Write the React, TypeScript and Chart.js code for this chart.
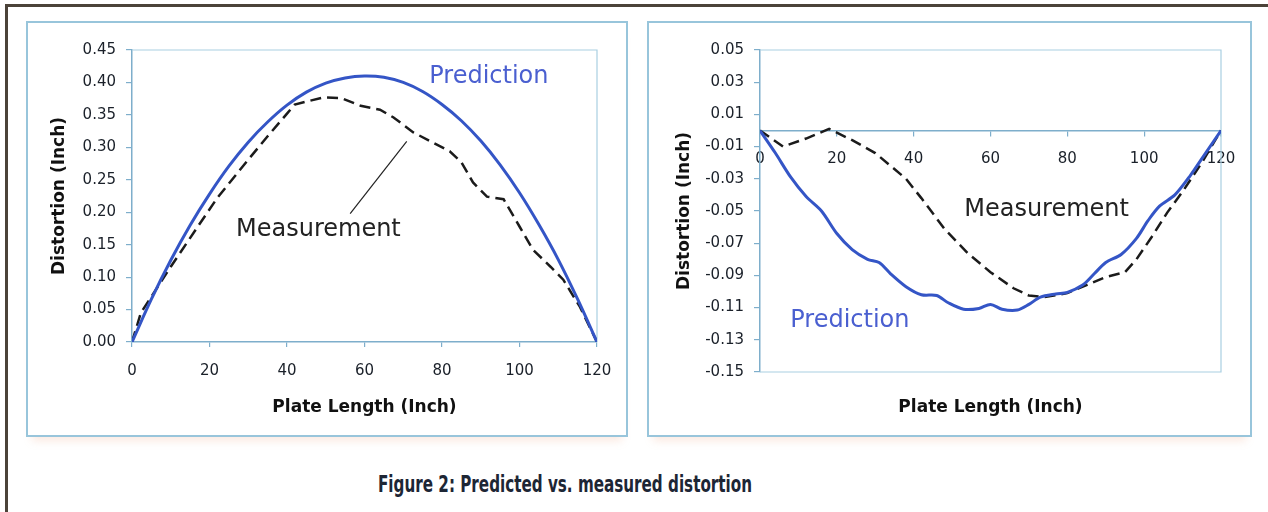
import React, { useEffect, useRef } from "react";
import { Chart, registerables } from "chart.js";
Chart.register(...registerables);

// ---------- data ----------
const xTicks = [0, 20, 40, 60, 80, 100, 120];
const leftYTicks = [0, 0.05, 0.1, 0.15, 0.2, 0.25, 0.3, 0.35, 0.4, 0.45];
const rightYTicks = [-0.15, -0.13, -0.11, -0.09, -0.07, -0.05, -0.03, -0.01, 0.01, 0.03, 0.05];

const leftPredX = [0, 5, 10, 15, 20, 25, 30, 35, 40, 45, 50, 55, 60, 65, 70, 75, 80, 85, 90, 95, 100, 105, 110, 115, 120];
const leftPredY = [0, 0.066, 0.126, 0.18, 0.228, 0.271, 0.308, 0.339, 0.365, 0.385, 0.399, 0.407, 0.41, 0.408, 0.4, 0.386, 0.366, 0.341, 0.31, 0.273, 0.23, 0.181, 0.127, 0.066, 0];

const leftMeasX = [0, 2.3, 10, 17, 22, 30, 35, 40, 42, 49.5, 54, 59, 64, 67.5, 72.6, 82, 85, 88, 91.6, 95.9, 100, 103.5, 108, 111.3, 115.6, 120];
const leftMeasY = [0, 0.045, 0.116, 0.178, 0.222, 0.281, 0.317, 0.352, 0.366, 0.377, 0.376, 0.364, 0.358, 0.346, 0.323, 0.294, 0.277, 0.246, 0.224, 0.22, 0.178, 0.142, 0.116, 0.096, 0.054, 0];

const leaderX = [56.3, 70.9];
const leaderY = [0.198, 0.309];

const rightPredX = [0, 4, 8, 12, 16, 20, 24, 28, 31, 34, 38, 42, 46, 49, 53, 57, 60, 63, 67, 70, 73, 77, 80, 84, 87, 90, 94, 98, 101, 104, 108, 112, 116, 120];
const rightPredY = [0, -0.014, -0.029, -0.041, -0.05, -0.064, -0.074, -0.08, -0.082, -0.089, -0.097, -0.102, -0.1025, -0.107, -0.111, -0.1105, -0.108, -0.111, -0.1115, -0.108, -0.1035, -0.1015, -0.1005, -0.096, -0.089, -0.082, -0.077, -0.067, -0.056, -0.047, -0.04, -0.028, -0.014, 0];

const rightMeasX = [0, 6, 12, 18, 24, 30, 38, 42, 48, 54, 60, 66, 70, 74, 80, 85, 90, 95, 98, 102, 106, 110, 115, 120];
const rightMeasY = [0, -0.01, -0.005, 0.001, -0.006, -0.014, -0.03, -0.042, -0.061, -0.076, -0.088, -0.098, -0.1025, -0.1035, -0.101, -0.096, -0.091, -0.088, -0.08, -0.066, -0.051, -0.038, -0.02, 0];

const seriesNames = ["Prediction", "Measurement"];
const xTitle = "Plate Length (Inch)";
const yTitle = "Distortion (Inch)";
const caption = "Figure 2: Predicted vs. measured distortion";

// ---------- styles ----------
const BLUE = "#3455c6";
const LABEL_BLUE = "#4a5fd0";
const BLACK = "#1b1b1b";
const AXIS = "#7eaecb";
const FRAME = "#a9cfe2";
const TICKC = "#1a2029";
const FONT = '"DejaVu Sans", "Liberation Sans", Arial, sans-serif';

const pts = (xs: number[], ys: number[]) => xs.map((x, i) => ({ x, y: ys[i] }));

type Annot = { text: string; x: number; y: number; color: string };

const makePlugin = (annots: Annot[], bottomFrame: boolean) => ({
  id: "frameAnnot",
  beforeDatasetsDraw(chart: any) {
    const { ctx, chartArea: a } = chart;
    ctx.save();
    ctx.strokeStyle = FRAME;
    ctx.lineWidth = 1.2;
    ctx.beginPath();
    ctx.moveTo(a.left, a.top);
    ctx.lineTo(a.right, a.top);
    ctx.lineTo(a.right, a.bottom);
    if (bottomFrame) ctx.lineTo(a.left, a.bottom);
    ctx.stroke();
    ctx.restore();
  },
  afterDatasetsDraw(chart: any) {
    const { ctx } = chart;
    const xs = chart.scales.x;
    const ys = chart.scales.y;
    ctx.save();
    ctx.font = `24px ${FONT}`;
    ctx.textAlign = "center";
    ctx.textBaseline = "middle";
    annots.forEach((a) => {
      ctx.fillStyle = a.color;
      ctx.fillText(a.text, xs.getPixelForValue(a.x), ys.getPixelForValue(a.y));
    });
    ctx.restore();
  },
});

const tickFont = { family: FONT, size: 15 };
const titleFont = { family: FONT, size: 17, weight: "bold" as const };

const xAxisBase = (extra: any) => ({
  type: "linear",
  min: 0,
  max: 120,
  afterBuildTicks: (s: any) => {
    s.ticks = xTicks.map((v) => ({ value: v }));
  },
  grid: { drawOnChartArea: false, drawTicks: true, tickLength: 5, color: AXIS, lineWidth: 1.2 },
  border: { display: true, color: AXIS, width: 1.5 },
  ticks: { padding: 15, color: TICKC, font: tickFont, maxRotation: 0, autoSkip: false },
  ...extra,
});

const yAxisBase = (ticksArr: number[], min: number, max: number, width: number, titlePad: number) => ({
  type: "linear",
  min,
  max,
  afterBuildTicks: (s: any) => {
    s.ticks = ticksArr.map((v) => ({ value: v }));
  },
  afterFit: (s: any) => {
    s.width = width;
  },
  grid: { drawOnChartArea: false, drawTicks: true, tickLength: 6, color: AXIS, lineWidth: 1.2 },
  border: { display: true, color: AXIS, width: 1.5 },
  ticks: {
    padding: 10,
    color: TICKC,
    font: tickFont,
    autoSkip: false,
    callback: (v: any) => Number(v).toFixed(2),
  },
  title: { display: true, text: yTitle, color: "#111", font: titleFont, padding: { top: titlePad, bottom: 0 } },
});

const leftConfig = (): any => ({
  type: "line",
  data: {
    datasets: [
      { label: seriesNames[0], data: pts(leftPredX, leftPredY), borderColor: BLUE, borderWidth: 3, pointRadius: 0, tension: 0.35, fill: false },
      { label: seriesNames[1], data: pts(leftMeasX, leftMeasY), borderColor: BLACK, borderWidth: 2.5, borderDash: [11, 6], pointRadius: 0, tension: 0, fill: false },
      { label: "leader", data: pts(leaderX, leaderY), borderColor: "#222", borderWidth: 1.2, pointRadius: 0, tension: 0, fill: false },
    ],
  },
  options: {
    animation: false,
    responsive: false,
    devicePixelRatio: 1,
    layout: { padding: { top: 29, right: 31, left: 0, bottom: 0 } },
    plugins: { legend: { display: false }, tooltip: { enabled: false } },
    scales: {
      x: xAxisBase({
        position: "bottom",
        afterFit: (s: any) => {
          s.height = 95;
        },
        title: { display: true, text: xTitle, color: "#111", font: titleFont, padding: { top: 0, bottom: 19 } },
      }),
      y: yAxisBase(leftYTicks, 0, 0.45, 106, 23),
    },
  },
  plugins: [
    makePlugin(
      [
        { text: seriesNames[0], x: 92.1, y: 0.408, color: LABEL_BLUE },
        { text: seriesNames[1], x: 48.1, y: 0.1726, color: "#222" },
      ],
      false
    ),
  ],
});

const rightConfig = (): any => ({
  type: "line",
  data: {
    datasets: [
      { label: seriesNames[0], data: pts(rightPredX, rightPredY), borderColor: BLUE, borderWidth: 3, pointRadius: 0, tension: 0.3, fill: false },
      { label: seriesNames[1], data: pts(rightMeasX, rightMeasY), borderColor: BLACK, borderWidth: 2.5, borderDash: [11, 6], pointRadius: 0, tension: 0, fill: false },
    ],
  },
  options: {
    animation: false,
    responsive: false,
    devicePixelRatio: 1,
    layout: { padding: { top: 29, right: 31, left: 0, bottom: 0 } },
    plugins: { legend: { display: false }, tooltip: { enabled: false } },
    scales: {
      x: xAxisBase({ position: { y: 0 } }),
      x2: {
        type: "linear",
        position: "bottom",
        min: 0,
        max: 120,
        afterFit: (s: any) => {
          s.height = 65;
        },
        grid: { display: false },
        border: { display: false },
        ticks: { display: false },
        title: { display: true, text: xTitle, color: "#111", font: titleFont, padding: { top: 0, bottom: 19 } },
      },
      y: yAxisBase(rightYTicks, -0.15, 0.05, 113, 27),
    },
  },
  plugins: [
    makePlugin(
      [
        { text: seriesNames[1], x: 74.6, y: -0.0494, color: "#222" },
        { text: seriesNames[0], x: 23.4, y: -0.1181, color: LABEL_BLUE },
      ],
      true
    ),
  ],
});

function ChartBox(props: { left: number; top: number; width: number; height: number; config: () => any }) {
  const { left, top, width, height, config } = props;
  const ref = useRef<HTMLCanvasElement>(null);
  useEffect(() => {
    const c = new Chart(ref.current as HTMLCanvasElement, config());
    return () => c.destroy();
  }, []);
  return (
    <div
      style={{
        position: "absolute",
        left,
        top,
        width,
        height,
        background: "#fff",
        boxShadow: "0 10px 8px -6px rgba(240,170,140,0.25)",
      }}
    >
      <canvas ref={ref} width={width} height={height} style={{ position: "absolute", left: 0, top: 0, width, height }} />
      <div
        style={{
          position: "absolute",
          left: 0,
          top: 0,
          width,
          height,
          border: "2px solid #98c5db",
          boxSizing: "border-box",
          pointerEvents: "none",
        }}
      />
    </div>
  );
}

export default function App() {
  useEffect(() => {
    document.body.style.margin = "0";
    document.body.style.background = "#fff";
  }, []);
  return (
    <div style={{ position: "relative", width: 1268, height: 512, overflow: "hidden", background: "#fff" }}>
      <div style={{ position: "absolute", left: 5, top: 4, width: 1263, height: 3, background: "#4b4339" }} />
      <div style={{ position: "absolute", left: 5, top: 4, width: 3, height: 508, background: "#4b4339" }} />
      <ChartBox left={26} top={21} width={602} height={416} config={leftConfig} />
      <ChartBox left={647} top={21} width={605} height={416} config={rightConfig} />
      <div
        style={{
          position: "absolute",
          left: 265,
          top: 473,
          width: 600,
          textAlign: "center",
          whiteSpace: "nowrap",
          fontFamily: '"DejaVu Sans", "Liberation Sans", sans-serif',
          fontWeight: "bold",
          fontSize: 23,
          lineHeight: "23px",
          color: "#1d2635",
          transform: "scaleX(0.66)",
          transformOrigin: "50% 50%",
        }}
      >
        {caption}
      </div>
    </div>
  );
}
